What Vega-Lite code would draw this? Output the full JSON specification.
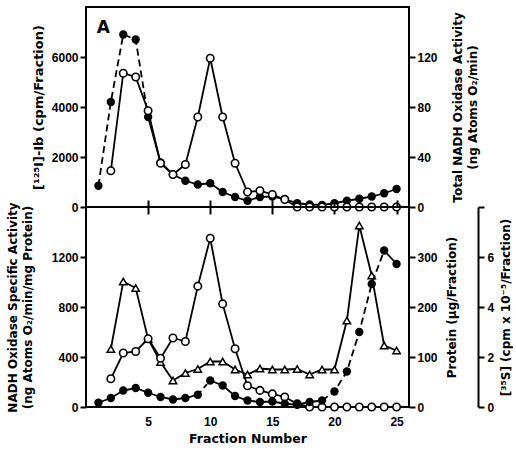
{
  "$schema": "https://vega.github.io/schema/vega-lite/v6.json",
  "background": "white",
  "padding": {"left": 5, "top": 6, "right": 0, "bottom": 2},
  "spacing": 0,
  "bounds": "flush",
  "datasets": {
    "A": [
      {"f": 1, "cpm": 850, "total": null},
      {"f": 2, "cpm": 4200, "total": 29},
      {"f": 3, "cpm": 6900, "total": 107},
      {"f": 4, "cpm": 6700, "total": 104},
      {"f": 5, "cpm": 3600, "total": 77},
      {"f": 6, "cpm": 1780, "total": 35},
      {"f": 7, "cpm": 1300, "total": 26},
      {"f": 8, "cpm": 1050, "total": 34},
      {"f": 9, "cpm": 900, "total": 72},
      {"f": 10, "cpm": 950, "total": 119},
      {"f": 11, "cpm": 600, "total": 72},
      {"f": 12, "cpm": 400, "total": 35},
      {"f": 13, "cpm": 250, "total": 12},
      {"f": 14, "cpm": 400, "total": 13},
      {"f": 15, "cpm": 420, "total": 10},
      {"f": 16, "cpm": 320, "total": 6},
      {"f": 17, "cpm": 150, "total": 0},
      {"f": 18, "cpm": 100, "total": 0},
      {"f": 19, "cpm": 80, "total": 0},
      {"f": 20, "cpm": 150, "total": 0},
      {"f": 21, "cpm": 250, "total": 0},
      {"f": 22, "cpm": 330, "total": 0},
      {"f": 23, "cpm": 420, "total": 0},
      {"f": 24, "cpm": 550, "total": 0},
      {"f": 25, "cpm": 720, "total": 0}
    ],
    "B": [
      {"f": 1, "sa": null, "protein": null, "s35": 0.17},
      {"f": 2, "sa": 226, "protein": 116, "s35": 0.36},
      {"f": 3, "sa": 432, "protein": 251, "s35": 0.66},
      {"f": 4, "sa": 444, "protein": 238, "s35": 0.76},
      {"f": 5, "sa": 546, "protein": 136, "s35": 0.57},
      {"f": 6, "sa": 390, "protein": 90, "s35": 0.40},
      {"f": 7, "sa": 552, "protein": 53, "s35": 0.30},
      {"f": 8, "sa": 524, "protein": 68, "s35": 0.36},
      {"f": 9, "sa": 967, "protein": 76, "s35": 0.49},
      {"f": 10, "sa": 1350, "protein": 91, "s35": 1.06},
      {"f": 11, "sa": 825, "protein": 91, "s35": 0.86},
      {"f": 12, "sa": 466, "protein": 75, "s35": 0.44},
      {"f": 13, "sa": 170, "protein": 65, "s35": 0.26},
      {"f": 14, "sa": 133, "protein": 77, "s35": 0.20},
      {"f": 15, "sa": 105, "protein": 75, "s35": 0.22},
      {"f": 16, "sa": 80, "protein": 75, "s35": 0.13},
      {"f": 17, "sa": 25, "protein": 76, "s35": 0.09},
      {"f": 18, "sa": 0, "protein": 65, "s35": 0.20},
      {"f": 19, "sa": 0, "protein": 75, "s35": 0.26},
      {"f": 20, "sa": 0, "protein": 75, "s35": 0.62},
      {"f": 21, "sa": 0, "protein": 173, "s35": 1.42},
      {"f": 22, "sa": 0, "protein": 363, "s35": 3.0},
      {"f": 23, "sa": 0, "protein": 263, "s35": 4.92},
      {"f": 24, "sa": 0, "protein": 123, "s35": 6.26},
      {"f": 25, "sa": 0, "protein": 113, "s35": 5.72}
    ]
  },
  "config": {
    "view": {"stroke": "black", "strokeWidth": 2},
    "axis": {
      "grid": false, "domain": false, "ticks": true, "minExtent": 0,
      "labelFont": "Liberation Sans", "labelFontSize": 12, "labelFontWeight": "bold", "labelColor": "black",
      "titleFont": "DejaVu Sans", "titleFontSize": 12, "titleFontWeight": "bold", "titleColor": "black",
      "titleLineHeight": 15,
      "tickColor": "black", "tickWidth": 2
    },
    "line": {"color": "black", "strokeWidth": 1.8}
  },
  "vconcat": [
    {
      "width": 323, "height": 200,
      "data": {"name": "A"},
      "layer": [
        {
          "encoding": {
            "x": {"field": "f", "type": "quantitative", "scale": {"domain": [0, 26], "nice": false},
                  "axis": {"orient": "bottom", "values": [5, 10, 15, 20, 25], "labels": false, "ticks": true, "tickSize": 7, "title": null}},
            "y": {"field": "cpm", "type": "quantitative", "scale": {"domain": [0, 8000], "nice": false},
                  "axis": {"orient": "left", "values": [0, 2000, 4000, 6000], "format": "d", "title": "[¹²⁵I]-Ib (cpm/Fraction)", "titleFontSize": 13, "tickSize": 6, "labelPadding": 2, "titlePadding": 6}}
          },
          "layer": [
            {"transform": [{"filter": "datum.f <= 5"}], "mark": {"type": "line", "strokeDash": [7, 4]}},
            {"transform": [{"filter": "datum.f >= 5"}], "mark": {"type": "line"}},
            {"mark": {"type": "circle", "color": "black", "size": 70, "opacity": 1}},
            {"transform": [{"filter": "datum.f == 1"}],
             "mark": {"type": "text", "font": "DejaVu Sans", "fontSize": 17, "fontWeight": "bold", "color": "black"},
             "encoding": {"x": {"datum": 1.4}, "y": {"datum": 7150}, "text": {"value": "A"}}}
          ]
        },
        {
          "encoding": {
            "x": {"field": "f", "type": "quantitative", "scale": {"domain": [0, 26], "nice": false}, "axis": null},
            "y": {"field": "total", "type": "quantitative", "scale": {"domain": [0, 160], "nice": false},
                  "axis": {"orient": "right", "values": [0, 40, 80, 120], "format": "d", "title": ["Total NADH Oxidase Activity", "(ng Atoms O₂/min)"], "titleAngle": 270, "tickSize": 6, "labelPadding": 2, "titlePadding": 12}}
          },
          "layer": [
            {"mark": {"type": "line"}},
            {"mark": {"type": "circle", "fill": "white", "stroke": "black", "strokeWidth": 1.6, "size": 55, "opacity": 1}}
          ]
        }
      ],
      "resolve": {"scale": {"y": "independent"}, "axis": {"x": "independent", "y": "independent"}}
    },
    {
      "width": 323, "height": 200,
      "data": {"name": "B"},
      "layer": [
        {
          "encoding": {
            "x": {"field": "f", "type": "quantitative", "scale": {"domain": [0, 26], "nice": false},
                  "axis": {"orient": "top", "values": [5, 10, 15, 20, 25], "labels": false, "ticks": true, "tickSize": 7, "title": null}},
            "y": {"field": "protein", "type": "quantitative", "scale": {"domain": [0, 400], "nice": false},
                  "axis": {"orient": "right", "values": [0, 100, 200, 300], "format": "d", "title": "Protein (µg/Fraction)", "titleAngle": 270, "tickSize": 6, "labelPadding": 2, "titlePadding": 21}}
          },
          "layer": [
            {"mark": {"type": "line"}},
            {"mark": {"type": "point", "shape": "triangle-up", "filled": true, "fill": "white", "stroke": "black", "strokeWidth": 1.5, "size": 55, "opacity": 1}}
          ]
        },
        {
          "encoding": {
            "x": {"field": "f", "type": "quantitative", "scale": {"domain": [0, 26], "nice": false},
                  "axis": {"orient": "bottom", "values": [5, 10, 15, 20, 25], "ticks": false, "labelPadding": 9, "title": "Fraction Number", "titleFontSize": 12.5, "titlePadding": 5}},
            "y": {"field": "sa", "type": "quantitative", "scale": {"domain": [0, 1600], "nice": false},
                  "axis": {"orient": "left", "values": [0, 400, 800, 1200], "format": "d", "title": ["NADH Oxidase Specific Activity", "(ng Atoms O₂/min/mg Protein)"], "tickSize": 6, "labelPadding": 2, "titlePadding": 17}}
          },
          "layer": [
            {"mark": {"type": "line"}},
            {"mark": {"type": "circle", "fill": "white", "stroke": "black", "strokeWidth": 1.6, "size": 55, "opacity": 1}},
            {"transform": [{"filter": "datum.f == 1"}],
             "mark": {"type": "text", "font": "DejaVu Sans", "fontSize": 17, "fontWeight": "bold", "color": "black"},
             "encoding": {"x": {"datum": 1.4}, "y": {"datum": 1420}, "text": {"value": "B"}}}
          ]
        },
        {
          "encoding": {
            "x": {"field": "f", "type": "quantitative", "scale": {"domain": [0, 26], "nice": false}, "axis": null},
            "y": {"field": "s35", "type": "quantitative", "scale": {"domain": [0, 8], "nice": false},
                  "axis": {"orient": "right", "offset": 69, "domain": true, "domainColor": "black", "domainWidth": 2, "values": [0, 2, 4, 6, 8], "format": "d", "labelExpr": "datum.value == 8 ? '' : datum.label", "tickSize": 6, "labelPadding": 3, "title": "[³⁵S] (cpm x 10⁻⁵/Fraction)", "titleAngle": 270, "titlePadding": 19}}
          },
          "layer": [
            {"transform": [{"filter": "datum.f <= 9"}], "mark": {"type": "line"}},
            {"transform": [{"filter": "datum.f >= 9 && datum.f <= 10"}], "mark": {"type": "line", "strokeDash": [5, 4]}},
            {"transform": [{"filter": "datum.f >= 10 && datum.f <= 19"}], "mark": {"type": "line"}},
            {"transform": [{"filter": "datum.f >= 19 && datum.f <= 24"}], "mark": {"type": "line", "strokeDash": [7, 4]}},
            {"transform": [{"filter": "datum.f >= 24"}], "mark": {"type": "line"}},
            {"mark": {"type": "circle", "color": "black", "size": 70, "opacity": 1}}
          ]
        }
      ],
      "resolve": {"scale": {"y": "independent"}, "axis": {"x": "independent", "y": "independent"}}
    }
  ]
}
